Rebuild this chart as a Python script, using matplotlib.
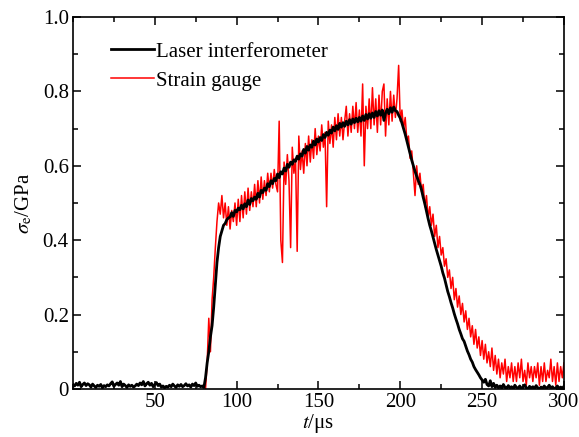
import matplotlib
matplotlib.use('Agg')
import matplotlib.pyplot as plt
import numpy as np
from matplotlib.ticker import MultipleLocator

plt.rcParams['font.family'] = ['Liberation Serif', 'DejaVu Serif']
plt.rcParams['mathtext.fontset'] = 'stix'

# laser interferometer, one value per microsecond from t = 0
laser_t0 = 0
laser = [
	0.012, 0.008, 0.015, 0.010, 0.018, 0.006, 0.012, 0.016, 0.009, 0.014,
	0.011, 0.005, 0.013, 0.008, 0.004, 0.010, 0.007, 0.012, 0.003, 0.009,
	0.006, 0.011, 0.008, 0.014, 0.019, 0.007, 0.012, 0.016, 0.010, 0.020,
	0.006, 0.013, 0.009, 0.004, 0.011, 0.007, 0.010, 0.005, 0.008, 0.013,
	0.009, 0.016, 0.011, 0.020, 0.008, 0.014, 0.018, 0.010, 0.015, 0.006,
	0.012, 0.017, 0.009, 0.013, 0.005, 0.008, 0.003, 0.007, 0.005, 0.010,
	0.006, 0.013, 0.008, 0.004, 0.011, 0.007, 0.012, 0.006, 0.009, 0.014,
	0.008, 0.011, 0.005, 0.013, 0.009, 0.016, 0.007, 0.010, 0.006, 0.008,
	0.004,
	0.030, 0.070, 0.100, 0.140, 0.170, 0.220, 0.280, 0.340, 0.380, 0.410,
	0.425, 0.440, 0.445, 0.455, 0.460, 0.462, 0.474, 0.464, 0.480, 0.476,
	0.486, 0.482, 0.494, 0.484, 0.498, 0.490, 0.508, 0.496, 0.512, 0.506,
	0.516, 0.510, 0.526, 0.516, 0.534, 0.528, 0.540, 0.534, 0.552, 0.544,
	0.560, 0.552, 0.566, 0.560, 0.578, 0.568, 0.584, 0.578, 0.594, 0.586,
	0.604, 0.596, 0.610, 0.604, 0.616, 0.612, 0.626, 0.618, 0.632, 0.626,
	0.644, 0.634, 0.652, 0.642, 0.656, 0.650, 0.666, 0.656, 0.672, 0.664,
	0.676, 0.668, 0.684, 0.676, 0.690, 0.682, 0.696, 0.688, 0.704, 0.694,
	0.708, 0.698, 0.714, 0.704, 0.716, 0.706, 0.720, 0.710, 0.724, 0.712,
	0.726, 0.716, 0.728, 0.718, 0.730, 0.720, 0.734, 0.722, 0.738, 0.726,
	0.740, 0.728, 0.742, 0.730, 0.746, 0.734, 0.748, 0.736, 0.750, 0.722,
	0.742, 0.752, 0.740, 0.756, 0.744, 0.758, 0.748, 0.746, 0.736, 0.728,
	0.715, 0.700, 0.685, 0.668, 0.650, 0.632, 0.615, 0.600, 0.585, 0.572,
	0.560, 0.550, 0.535, 0.515, 0.498, 0.478, 0.458, 0.440, 0.425, 0.408,
	0.390, 0.375, 0.360, 0.345, 0.330, 0.312, 0.298, 0.280, 0.262, 0.248,
	0.232, 0.218, 0.202, 0.188, 0.175, 0.160, 0.148, 0.135, 0.128, 0.115,
	0.102, 0.092, 0.080, 0.072, 0.060, 0.052, 0.045, 0.038, 0.030, 0.024,
	0.018, 0.026, 0.012, 0.008, 0.022, 0.006, 0.015, 0.004, 0.010, 0.003,
	0.008, 0.002, 0.012, 0.004, 0.001, 0.009, 0.003, 0.006, 0.000, 0.010,
	0.004, 0.002, 0.008, 0.001, 0.005, 0.011, 0.003, 0.000, 0.007, 0.002,
	0.006, 0.001, 0.009, 0.003, 0.000, 0.005, 0.002, 0.008, 0.001, 0.004,
	0.010, 0.002, 0.006, 0.000, 0.003, 0.008, 0.001, 0.005, 0.002, 0.007,
]

# strain gauge, one value per microsecond from t = 81
gauge_t0 = 81
gauge = [
	0.00, 0.07, 0.19, 0.10, 0.24, 0.30, 0.38, 0.45, 0.50, 0.47,
	0.52, 0.46, 0.50, 0.44, 0.49, 0.43, 0.48, 0.45, 0.50, 0.44,
	0.51, 0.45, 0.52, 0.46, 0.53, 0.47, 0.54, 0.48, 0.53, 0.49,
	0.55, 0.49, 0.56, 0.50, 0.57, 0.51, 0.56, 0.52, 0.58, 0.53,
	0.58, 0.54, 0.59, 0.55, 0.53, 0.72, 0.40, 0.34, 0.61, 0.55,
	0.63, 0.56, 0.38, 0.65, 0.58, 0.62, 0.37, 0.68, 0.59, 0.64,
	0.58, 0.66, 0.60, 0.68, 0.61, 0.67, 0.62, 0.70, 0.63, 0.68,
	0.64, 0.71, 0.65, 0.69, 0.49, 0.72, 0.66, 0.71, 0.65, 0.73,
	0.67, 0.74, 0.68, 0.73, 0.67, 0.72, 0.76, 0.68, 0.74, 0.69,
	0.76, 0.70, 0.77, 0.69, 0.75, 0.68, 0.82, 0.60, 0.76, 0.70,
	0.78, 0.70, 0.81, 0.71, 0.78, 0.69, 0.79, 0.71, 0.80, 0.82,
	0.68, 0.78, 0.71, 0.80, 0.72, 0.79, 0.73, 0.78, 0.87, 0.72,
	0.75, 0.70, 0.73, 0.67, 0.68, 0.62, 0.64, 0.58, 0.52, 0.60,
	0.55, 0.58, 0.53, 0.55, 0.49, 0.52, 0.46, 0.49, 0.44, 0.47,
	0.41, 0.44, 0.38, 0.41, 0.36, 0.38, 0.33, 0.35, 0.30, 0.32,
	0.27, 0.30, 0.24, 0.27, 0.22, 0.25, 0.20, 0.23, 0.18, 0.21,
	0.16, 0.19, 0.14, 0.17, 0.12, 0.16, 0.11, 0.14, 0.09, 0.13,
	0.08, 0.12, 0.07, 0.10, 0.06, 0.11, 0.05, 0.09, 0.04, 0.08,
	0.03, 0.07, 0.04, 0.08, 0.02, 0.06, 0.03, 0.07, 0.02, 0.06,
	0.02, 0.07, 0.03, 0.08, 0.02, 0.05, 0.01, 0.07, 0.03, 0.06,
	0.02, 0.06, 0.03, 0.07, 0.01, 0.06, 0.02, 0.07, 0.02, 0.05,
	0.03, 0.08, 0.02, 0.06, 0.01, 0.07, 0.02, 0.06, 0.03, 0.07,
]

x_ticks = [50, 100, 150, 200, 250, 300]
y_ticks = [0, 0.2, 0.4, 0.6, 0.8, 1.0]
y_tick_labels = ['0', '0.2', '0.4', '0.6', '0.8', '1.0']


def main():
	fig = plt.figure(figsize=(5.79, 4.37), dpi=100)
	ax = fig.add_axes([0.126, 0.110, 0.848, 0.851])

	t_laser = laser_t0 + np.arange(len(laser))
	t_gauge = gauge_t0 + np.arange(len(gauge))

	ax.plot(t_gauge, gauge, color='red', lw=1.1, label='Strain gauge', zorder=2)
	ax.plot(t_laser, laser, color='black', lw=2.0, label='Laser interferometer', zorder=3)

	ax.set_xlim(0, 300)
	ax.set_ylim(0, 1.0)
	ax.set_xticks(x_ticks)
	ax.set_yticks(y_ticks)
	ax.set_yticklabels(y_tick_labels)
	ax.xaxis.set_minor_locator(MultipleLocator(25))
	ax.yaxis.set_minor_locator(MultipleLocator(0.1))

	ax.tick_params(which='both', direction='in', top=True, right=True,
				   labelsize=15, width=1.1, pad=3)
	ax.tick_params(which='major', length=6)
	ax.tick_params(which='minor', length=3.5)
	for sp in ax.spines.values():
		sp.set_linewidth(1.2)

	ax.set_xlabel(r'$t$/μs', fontsize=15, labelpad=0)
	ax.set_ylabel(r'$\sigma_{\rm e}$/GPa', fontsize=15, labelpad=6)

	h, l = ax.get_legend_handles_labels()
	ax.legend(h[::-1], l[::-1], loc='upper left', bbox_to_anchor=(0.06, 0.955),
			  frameon=False, fontsize=15, handlelength=2.1, handletextpad=0.05,
			  labelspacing=0.45, borderaxespad=0)

	fig.savefig('out.png', dpi=100)


if __name__ == "__main__":
	main()
